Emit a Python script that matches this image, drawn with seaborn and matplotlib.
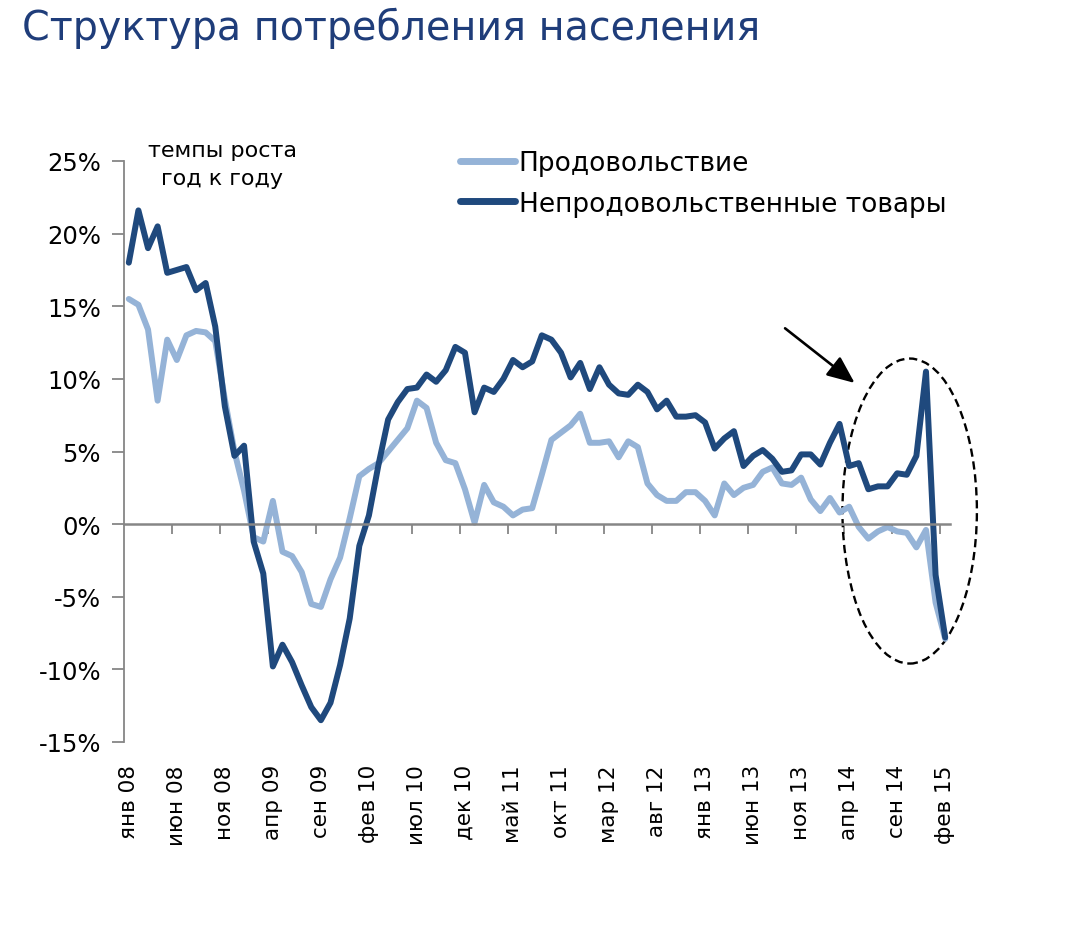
import numpy as np
import pandas as pd
import matplotlib
matplotlib.use("Agg")
import matplotlib.pyplot as plt
import seaborn as sns
from matplotlib.patches import Ellipse
from matplotlib.lines import Line2D

# ---------------- data ----------------
tick_labels = ["янв 08", "июн 08", "ноя 08", "апр 09", "сен 09", "фев 10",
               "июл 10", "дек 10", "май 11", "окт 11", "мар 12", "авг 12",
               "янв 13", "июн 13", "ноя 13", "апр 14", "сен 14", "фев 15"]

food = [15.5, 15.1, 13.4, 8.5, 12.7, 11.3, 13.0, 13.3, 13.2, 12.6,
        8.6, 5.0, 2.3, -0.9, -1.2, 1.6, -1.9, -2.2, -3.3, -5.5,
        -5.7, -3.8, -2.3, 0.4, 3.3, 3.8, 4.2, 5.0, 5.8, 6.6,
        8.5, 8.0, 5.6, 4.4, 4.2, 2.4, 0.1, 2.7, 1.5, 1.2,
        0.6, 1.0, 1.1, 3.4, 5.8, 6.3, 6.8, 7.6, 5.6, 5.6,
        5.7, 4.6, 5.7, 5.3, 2.8, 2.0, 1.6, 1.6, 2.2, 2.2,
        1.6, 0.6, 2.8, 2.0, 2.5, 2.7, 3.6, 3.9, 2.8, 2.7,
        3.2, 1.7, 0.9, 1.8, 0.8, 1.2, -0.2, -1.0, -0.5, -0.2,
        -0.5, -0.6, -1.6, -0.4, -5.4, -7.9]

nonfood = [18.0, 21.6, 19.0, 20.5, 17.3, 17.5, 17.7, 16.1, 16.6, 13.6,
           8.1, 4.7, 5.4, -1.2, -3.4, -9.8, -8.3, -9.5, -11.1, -12.6,
           -13.5, -12.3, -9.7, -6.5, -1.5, 0.6, 4.1, 7.2, 8.4, 9.3,
           9.4, 10.3, 9.8, 10.6, 12.2, 11.8, 7.7, 9.4, 9.1, 10.0,
           11.3, 10.8, 11.2, 13.0, 12.7, 11.8, 10.1, 11.1, 9.3, 10.8,
           9.6, 9.0, 8.9, 9.6, 9.1, 7.9, 8.5, 7.4, 7.4, 7.5,
           7.0, 5.2, 5.9, 6.4, 4.0, 4.7, 5.1, 4.5, 3.6, 3.7,
           4.8, 4.8, 4.1, 5.6, 6.9, 4.0, 4.2, 2.4, 2.6, 2.6,
           3.5, 3.4, 4.7, 10.5, -3.5, -7.8]

series_names = ["Продовольствие", "Непродовольственные товары"]
colors = ["#95B3D7", "#1F497D"]
y_ticks = [-15, -10, -5, 0, 5, 10, 15, 20, 25]

n = len(food)
df = pd.DataFrame({
    "month": np.concatenate([np.arange(n), np.arange(n)]),
    "value": np.concatenate([food, nonfood]),
    "series": [series_names[0]] * n + [series_names[1]] * n,
})

# ---------------- figure ----------------
sns.set_theme(style="white")
plt.rcParams["font.family"] = ["DejaVu Sans"]
plt.rcParams["text.color"] = "black"

W, H = 1072, 928
fig = plt.figure(figsize=(W / 100, H / 100), dpi=100)
ax = fig.add_axes([124 / W, 1 - 743 / H, (950 - 124) / W, (743 - 162) / H])

sns.lineplot(data=df, x="month", y="value", hue="series",
             hue_order=series_names, palette=colors, linewidth=4.3,
             ax=ax, legend=False, sort=False)

ax.set_xlim(-0.5, n - 0.5)
ax.set_ylim(-15, 25)
ax.set_xlabel("")
ax.set_ylabel("")

grey = "#868686"
for s in ["top", "right"]:
    ax.spines[s].set_visible(False)
ax.spines["left"].set_color(grey)
ax.spines["left"].set_linewidth(1.3)
ax.spines["bottom"].set_position(("data", 0))
ax.spines["bottom"].set_color(grey)
ax.spines["bottom"].set_linewidth(1.8)

ax.set_yticks(y_ticks)
ax.set_yticklabels([f"{v}%" for v in y_ticks], fontsize=17.5, color="black")
ax.tick_params(axis="y", direction="out", length=8.5, width=1.3, color=grey, pad=8, left=True)

ax.set_xticks(np.arange(4.5, n - 1, 5))
ax.tick_params(axis="x", direction="out", length=7, width=1.3, color=grey,
               labelbottom=False, bottom=True)

sec = ax.secondary_xaxis(0.0)
sec.set_xticks(np.arange(0, n, 5))
sec.set_xticklabels(tick_labels, rotation=90, fontsize=15.5, color="black")
sec.tick_params(axis="x", length=0, pad=16)
sec.spines["bottom"].set_visible(False)

# legend
handles = [Line2D([0], [0], color=c, lw=5) for c in colors]
fig.legend(handles, series_names, loc="upper left",
           bbox_to_anchor=(460 / W, 1 - 151 / H), bbox_transform=fig.transFigure,
           frameon=False, fontsize=19, handlelength=2.1, handletextpad=0.12,
           labelspacing=0.55, borderpad=0, borderaxespad=0, labelcolor="black")

# annotation text
fig.text(222 / W, 1 - 165 / H, "темпы роста\nгод к году", ha="center", va="center",
         fontsize=16, linespacing=1.45, color="black")

# title
fig.text(22 / W, 1 - 28 / H, "Структура потребления населения", ha="left", va="center",
         fontsize=28.5, color="#1F3D7A")

# dashed ellipse and arrow
ell = Ellipse((81.3, 0.9), width=14.0, height=21.0, fill=False, edgecolor="black",
              linestyle=(0, (3.5, 2)), linewidth=1.7, clip_on=False)
ax.add_patch(ell)
ax.annotate("", xy=(75.8, 9.6), xytext=(68.1, 13.6),
            arrowprops=dict(arrowstyle="-|>,head_length=1.4,head_width=0.6",
                            color="black", lw=1.9), annotation_clip=False)

fig.savefig("out.png", dpi=100)
